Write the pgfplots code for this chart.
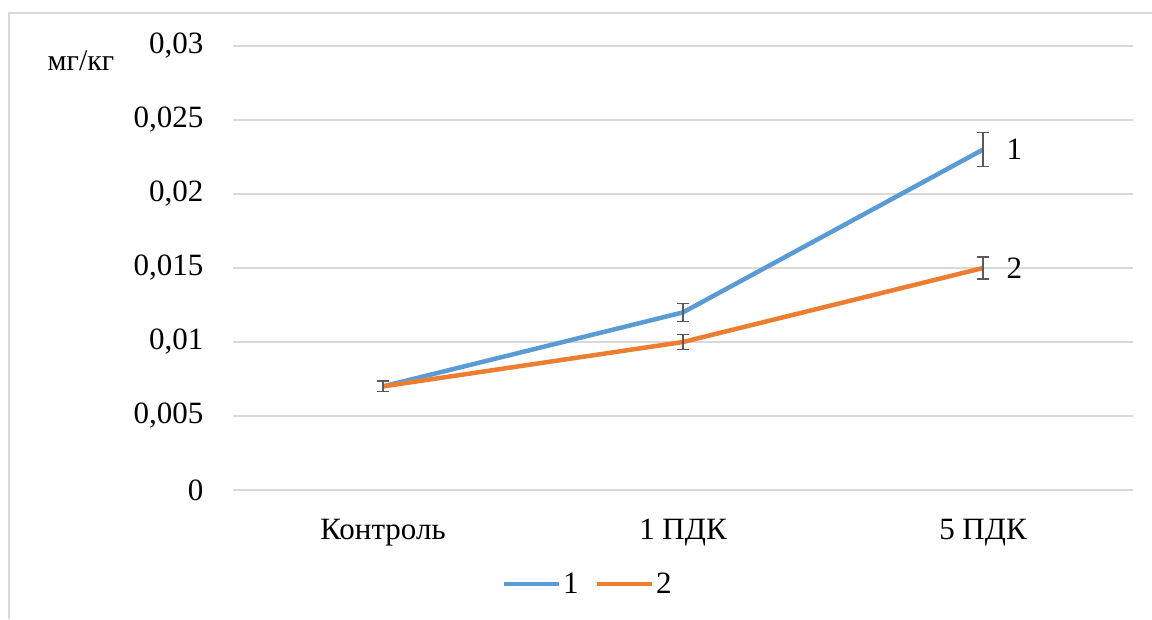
\documentclass[border=0pt]{standalone}
\usepackage{pgfplots}
\pgfplotsset{compat=1.18}
\usepackage{fontspec}
\setmainfont{Liberation Serif}
\newfontfamily\tnr{Liberation Serif}
\definecolor{s1}{HTML}{5B9BD5}
\definecolor{s2}{HTML}{ED7D31}
\definecolor{gridc}{HTML}{D9D9D9}
\definecolor{errc}{HTML}{595959}
\begin{document}
\begin{tikzpicture}
\path[use as bounding box] (0pt,0pt) rectangle (1152pt,619pt);
\draw[gridc, line width=1.5pt] (9pt,0pt) -- (9pt,606pt) -- (1160pt,606pt);
\node[font=\tnr\fontsize{30}{34}\selectfont] at (81pt,558pt) {мг/кг};
\begin{axis}[
  at={(233pt,129pt)}, anchor=south west,
  scale only axis, width=900pt, height=444pt,
  xmin=-0.5, xmax=2.5, ymin=0, ymax=0.03,
  xtick={0,1,2}, xticklabels={Контроль,1 ПДК,5 ПДК},
  ytick={0,0.005,0.01,0.015,0.02,0.025,0.03},
  scaled y ticks=false,
  /pgf/number format/.cd, use comma, fixed, precision=3, assume math mode=true,
  /pgfplots/.cd,
  axis line style={draw=none},
  major tick length=0pt,
  ymajorgrids, grid style={gridc, line width=1.5pt},
  tick label style={font=\tnr\fontsize{31}{36}\selectfont},
  yticklabel style={xshift=-26pt},
  xticklabel style={yshift=-26pt},
  legend style={at={(0.394,-0.212)}, anchor=center, draw=none, fill=none,
    font=\tnr\fontsize{31}{36}\selectfont, legend columns=2,
    /tikz/every even column/.append style={column sep=14pt}},
  legend image code/.code={\draw[#1] (0pt,0pt) -- (55pt,0pt);},
  clip=false,
]
\addplot[s1, line width=4.5pt, line join=round, mark=none,
  error bars/.cd, y dir=both, y explicit,
  error bar style={errc, line width=1.5pt},
  error mark options={rotate=90, mark size=6pt, errc, line width=1.5pt}]
  coordinates {(0,0.007) +- (0,0.00035) (1,0.012) +- (0,0.0006) (2,0.023) +- (0,0.00115)};
\addplot[s2, line width=4.5pt, line join=round, mark=none,
  error bars/.cd, y dir=both, y explicit,
  error bar style={errc, line width=1.5pt},
  error mark options={rotate=90, mark size=6pt, errc, line width=1.5pt}]
  coordinates {(0,0.007) +- (0,0.00035) (1,0.010) +- (0,0.0005) (2,0.015) +- (0,0.00075)};
\addlegendimage{s1, line width=4.5pt, line cap=round}
\addlegendentry{1}
\addlegendimage{s2, line width=4.5pt, line cap=round}
\addlegendentry{2}
\node[anchor=west, font=\tnr\fontsize{31}{36}\selectfont, xshift=20pt] at (axis cs:2,0.023) {1};
\node[anchor=west, font=\tnr\fontsize{31}{36}\selectfont, xshift=20pt] at (axis cs:2,0.015) {2};
\end{axis}
\end{tikzpicture}
\end{document}
